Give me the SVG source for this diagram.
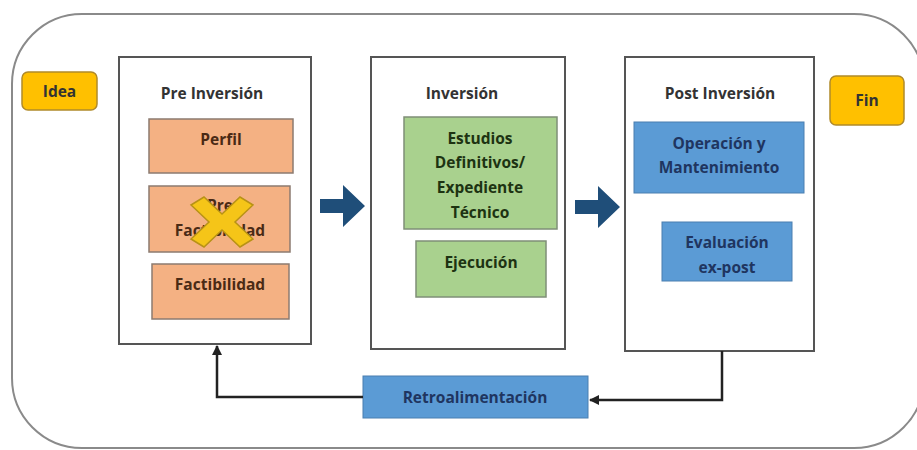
<svg xmlns="http://www.w3.org/2000/svg" width="917" height="450" viewBox="0 0 917 450">
<defs>
<style>
text{font-family:"Open Sans","Liberation Sans",sans-serif;font-weight:bold;font-size:15.5px;text-anchor:middle}
.frame{fill:#fff;stroke:#555;stroke-width:2}
.or{fill:#F4B183;stroke:#8c7b70;stroke-width:1.5}
.gr{fill:#A9D18E;stroke:#7f8f77;stroke-width:1.5}
.bl{fill:#5B9BD5;stroke:#4a7fb0;stroke-width:1}
.ye{fill:#FFC000;stroke:#b08a2a;stroke-width:1.5}
.tor{fill:#4a2a15}
.tgr{fill:#1d3312}
.tbl{fill:#1f3560}
.tk{fill:#333}
.conn{fill:none;stroke:#222;stroke-width:2.5}
</style>
<marker id="ah" viewBox="0 0 10 10" refX="9" refY="5" markerWidth="4" markerHeight="4" orient="auto">
<path d="M0,0 L10,5 L0,10 z" fill="#222"/>
</marker>
</defs>
<rect x="12" y="14" width="912" height="434" rx="70" ry="70" fill="#fff" stroke="#8a8a8a" stroke-width="2"/>

<g id="idea"><rect class="ye" x="22" y="72" width="75" height="38" rx="6"/><text class="tk" x="59.5" y="97">Idea</text></g>
<g id="fin"><rect class="ye" x="830" y="76" width="74" height="49" rx="6"/><text class="tk" x="867" y="106">Fin</text></g>

<g id="preinversion">
<rect class="frame" x="119" y="57" width="192" height="287"/>
<text class="tk" x="212" y="99">Pre Inversión</text>
</g>
<g id="perfil"><rect class="or" x="149" y="119" width="144" height="54"/><text class="tor" x="221" y="145">Perfil</text></g>
<g id="prefactibilidad"><rect class="or" x="149" y="186" width="141" height="66"/><text class="tor" x="220" y="211">Pre</text><text class="tor" x="220" y="236">Factibilidad</text>
<g transform="translate(222,222)"><path d="M-31,-17 L-18,-25 L0,-8 L18,-25 L31,-17 L13,0 L31,17 L18,25 L0,8 L-18,25 L-31,17 L-13,0 z" fill="#F5C518" stroke="#b89216" stroke-width="1.5"/></g>
</g>
<g id="factibilidad"><rect class="or" x="152" y="264" width="137" height="55"/><text class="tor" x="220" y="290">Factibilidad</text></g>

<g id="inversion">
<rect class="frame" x="371" y="57" width="194" height="292"/>
<text class="tk" x="462" y="99">Inversión</text>
</g>
<g id="estudios"><rect class="gr" x="404" y="117" width="153" height="112"/>
<text class="tgr" x="480" y="144">Estudios</text><text class="tgr" x="480" y="168">Definitivos/</text><text class="tgr" x="480" y="193">Expediente</text><text class="tgr" x="480" y="218">Técnico</text></g>
<g id="ejecucion"><rect class="gr" x="416" y="241" width="130" height="56"/><text class="tgr" x="481" y="268">Ejecución</text></g>

<g id="postinversion">
<rect class="frame" x="625" y="57" width="189" height="294"/>
<text class="tk" x="720" y="99">Post Inversión</text>
</g>
<g id="operacion"><rect class="bl" x="634" y="122" width="170" height="71"/><text class="tbl" x="719" y="149">Operación y</text><text class="tbl" x="719" y="173">Mantenimiento</text></g>
<g id="evaluacion"><rect class="bl" x="662" y="222" width="130" height="59"/><text class="tbl" x="727" y="248">Evaluación</text><text class="tbl" x="727" y="273">ex-post</text></g>

<g id="retro"><rect class="bl" x="363" y="376" width="225" height="42"/><text class="tbl" x="475" y="403">Retroalimentación</text></g>

<g id="connectors">
<path d="M320,199 L343,199 L343,185 L365,206 L343,227 L343,213 L320,213 z" fill="#1F4E79"/>
<path d="M575,200 L598,200 L598,186 L620,207 L598,228 L598,214 L575,214 z" fill="#1F4E79"/>
<path class="conn" d="M722,351 L722,400 L590,400" marker-end="url(#ah)"/>
<path class="conn" d="M363,397 L217,397 L217,346" marker-end="url(#ah)"/>
</g>
</svg>
